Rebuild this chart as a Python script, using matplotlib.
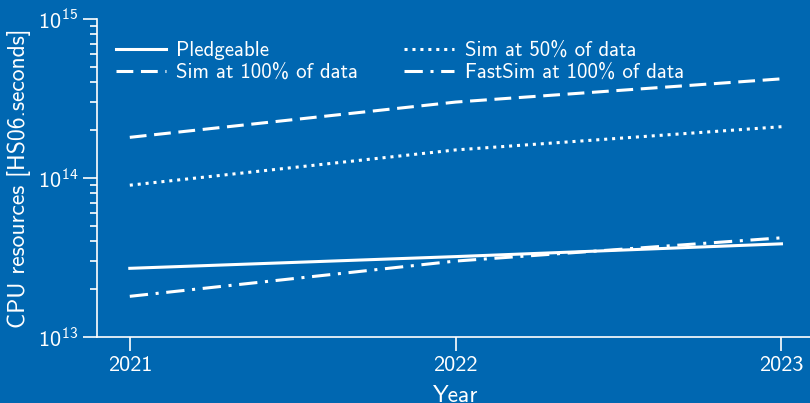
import matplotlib
matplotlib.use("Agg")
import matplotlib.pyplot as plt

years = [2021, 2022, 2023]
pledgeable = [2.7e13, 3.2e13, 3.85e13]
sim_100 = [1.8e14, 3.0e14, 4.2e14]
sim_50 = [9.0e13, 1.5e14, 2.1e14]
fastsim_100 = [1.8e13, 3.0e13, 4.2e13]

bg = "#0067b1"
fg = "white"

plt.rcParams["font.family"] = ["cmss10", "DejaVu Sans"]
plt.rcParams["mathtext.fontset"] = "custom"
plt.rcParams["mathtext.rm"] = "cmss10"
plt.rcParams["mathtext.it"] = "cmss10"
plt.rcParams["axes.unicode_minus"] = False

fig = plt.figure(figsize=(8.1, 4.03), dpi=100, facecolor=bg)
ax = fig.add_axes([0.12, 0.164, 0.885, 0.789], facecolor=bg)

lw = 2.2
ax.plot(years, pledgeable, color=fg, lw=lw, linestyle="-", label="Pledgeable")
ax.plot(years, sim_100, color=fg, lw=lw, linestyle=(0, (5.5, 2.5)), label="Sim at 100% of data")
ax.plot(years, sim_50, color=fg, lw=lw, linestyle=(0, (1, 1.6)), label="Sim at 50% of data")
ax.plot(years, fastsim_100, color=fg, lw=lw, linestyle=(0, (6, 2.5, 1, 2.5)), label="FastSim at 100% of data")

ax.set_yscale("log")
ax.set_ylim(1e13, 1e15)
ax.set_xlim(2020.9, 2023.1)
ax.set_xticks(years)
ax.set_xticklabels([str(y) for y in years])

for side in ("top", "right"):
    ax.spines[side].set_visible(False)
for side in ("left", "bottom"):
    ax.spines[side].set_color(fg)
    ax.spines[side].set_linewidth(1.2)

ax.tick_params(axis="both", which="both", colors=fg, direction="out", labelsize=16)
ax.tick_params(axis="both", which="major", length=10, width=1.2)
ax.tick_params(axis="y", which="minor", length=5, width=1.2)
ax.tick_params(axis="x", which="major", pad=4)

ax.set_xlabel("Year", color=fg, fontsize=17, labelpad=7)
ax.set_ylabel("CPU resources [HS06.seconds]", color=fg, fontsize=17, labelpad=5)

leg = ax.legend(loc="upper left", ncol=2, frameon=False, fontsize=15,
                handlelength=2.4, columnspacing=2.2, labelspacing=0.15,
                bbox_to_anchor=(0.0, 0.99), handletextpad=0.5)
for t in leg.get_texts():
    t.set_color(fg)

fig.savefig("out.png", dpi=100, facecolor=bg)
